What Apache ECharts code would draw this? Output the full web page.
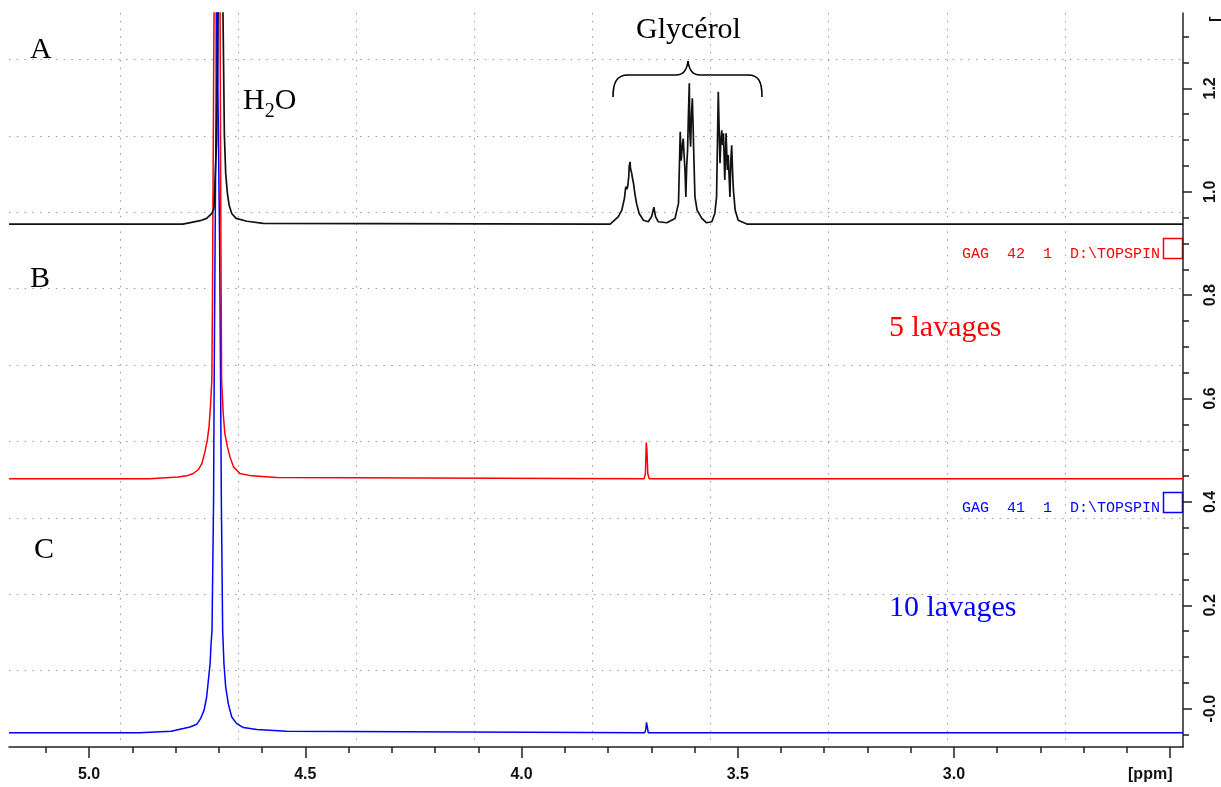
<!DOCTYPE html>
<html><head><meta charset="utf-8">
<script src="https://cdn.jsdelivr.net/npm/echarts@6/dist/echarts.min.js"></script>
<style>html,body{margin:0;padding:0;background:#fff}#c{width:1221px;height:787px}</style>
</head><body><div id="c"></div><script>
// ---- data (ppm, intensity) ----
const spectrumA = [
[5.185,0.9375],[4.783,0.9375],[4.781,0.941],[4.743,0.944],[4.728,0.9485],[4.716,0.958],[4.711,0.9685],
[4.705,1.10],[4.701,1.40],[4.696,2.60],[4.691,1.40],[4.687,1.11],[4.684,1.036],[4.680,0.997],[4.676,0.974],
[4.670,0.958],[4.660,0.9485],[4.635,0.943],[4.597,0.939],[4.595,0.9375],
[3.826,0.9375],[3.823,0.9405],[3.820,0.9375],[3.795,0.9375],[3.776,0.952],[3.768,0.9646],[3.762,0.9872],
[3.759,1.0097],[3.756,1.005],[3.754,1.013],[3.752,1.030],[3.751,1.0484],[3.749,1.058],[3.748,1.045],[3.747,1.042],[3.745,1.035],[3.744,1.029],[3.741,1.016],
[3.738,0.997],[3.734,0.9775],[3.728,0.958],[3.718,0.945],[3.707,0.942],[3.699,0.952],[3.694,0.970],
[3.690,0.952],[3.684,0.942],[3.664,0.940],[3.645,0.9485],[3.637,0.9775],[3.633,1.116],[3.631,1.060],[3.630,1.068],
[3.628,1.090],[3.626,1.103],[3.624,1.070],[3.622,1.042],[3.620,0.990],[3.618,1.050],[3.616,1.081],[3.614,1.150],[3.612,1.210],[3.611,1.120],[3.609,1.087],[3.607,1.150],[3.605,1.181],
[3.603,1.120],[3.602,1.084],[3.599,0.990],[3.594,0.9646],[3.583,0.9485],[3.572,0.940],[3.560,0.942],[3.553,0.958],
[3.549,0.990],[3.545,1.1935],[3.543,1.120],[3.541,1.055],[3.539,1.100],[3.537,1.119],[3.535,1.090],[3.533,1.113],[3.530,1.023],[3.528,1.080],[3.527,1.113],
[3.524,1.042],[3.522,1.071],[3.520,1.030],[3.518,0.990],[3.516,1.060],[3.514,1.090],[3.512,1.040],[3.510,1.003],[3.506,0.9646],[3.499,0.945],
[3.479,0.9375],[3.421,0.9375],[3.418,0.940],[3.415,0.9375],[2.4705,0.9375]
];
const spectrumB = [
[5.185,0.445],[4.860,0.445],[4.858,0.4484],[4.794,0.4484],[4.792,0.4504],[4.774,0.4504],[4.759,0.4550],
[4.747,0.4627],[4.739,0.4744],[4.732,0.4968],[4.7265,0.5195],[4.7225,0.5452],[4.719,0.5872],[4.716,0.6356],
[4.7145,0.80],[4.712,1.20],[4.709,1.60],[4.703,2.60],[4.698,1.60],[4.696,1.117],[4.695,0.90],
[4.6934,0.6356],[4.6897,0.571],[4.686,0.5324],[4.680,0.5065],[4.674,0.4871],[4.666,0.4678],[4.651,0.4550],
[4.624,0.4504],[4.566,0.4473],[4.564,0.445],
[3.7165,0.445],[3.7135,0.455],[3.7115,0.515],[3.7100,0.500],[3.708,0.455],[3.705,0.445],[2.4705,0.445]
];
const spectrumC = [
[5.185,-0.0463],[4.883,-0.0463],[4.881,-0.0437],[4.810,-0.0437],[4.808,-0.0404],[4.782,-0.0385],
[4.7665,-0.0354],[4.751,-0.0302],[4.742,-0.0191],[4.734,-0.0031],[4.728,0.0226],[4.724,0.0550],
[4.720,0.0873],[4.718,0.1225],[4.7156,0.1516],[4.712,0.40],[4.7105,0.65],[4.706,1.20],[4.704,2.60],
[4.702,1.20],[4.698,0.90],[4.6955,0.60],[4.694,0.40],[4.691,0.1516],[4.688,0.0873],[4.684,0.0420],
[4.678,0.0099],[4.670,-0.0160],[4.6585,-0.0288],[4.643,-0.0366],[4.612,-0.0404],[4.543,-0.0437],
[4.541,-0.0463],
[3.715,-0.0463],[3.7125,-0.040],[3.711,-0.0263],[3.709,-0.035],[3.707,-0.0463],[2.4705,-0.0463]
];
const xTickValues = [5.0, 4.5, 4.0, 3.5, 3.0, 2.5];
const xTickLabels = ['5.0', '4.5', '4.0', '3.5', '3.0', '[ppm]'];
const yTickValues = [0, 0.2, 0.4, 0.6, 0.8, 1.0, 1.2];
const yTickLabels = ['-0.0', '0.2', '0.4', '0.6', '0.8', '1.0', '1.2'];
const xRange = [2.4705, 5.185];
const yRange = [-0.0741, 1.3458];

function lookup(vals, labels, v) {
  for (let i = 0; i < vals.length; i++) if (Math.abs(vals[i] - v) < 1e-6) return labels[i];
  return '';
}
const chart = echarts.init(document.getElementById('c'), null, {renderer: 'canvas'});
const axisCol = '#222';
const dotted = {show: true, lineStyle: {color: '#9a9a9a', width: 1, type: [1.5, 6.3]}, showMinLine: false, showMaxLine: false};
const serif = 'Liberation Serif, Times New Roman, serif';
const option = {
  animation: false,
  backgroundColor: '#fff',
  grid: {left: 9, right: 38, top: 13, bottom: 40, containLabel: false},
  xAxis: [{
    type: 'value', inverse: true, min: xRange[0], max: xRange[1], splitNumber: 5,
    position: 'bottom',
    axisLine: {show: true, onZero: false, lineStyle: {color: axisCol, width: 1.5}},
    axisTick: {show: true, inside: false, length: 11, customValues: xTickValues, lineStyle: {color: axisCol, width: 1.5}},
    minorTick: {show: true, splitNumber: 5, length: 6, lineStyle: {color: axisCol, width: 1.5}},
    axisLabel: {show: true, margin: 20, customValues: xTickValues, fontFamily: 'Liberation Sans, Arial', fontWeight: 'bold', fontSize: 16, color: '#111',
      formatter: v => { const t = lookup(xTickValues, xTickLabels, v); return t === '[ppm]' ? '{p|[ppm]}' : t; },
      rich: {p: {fontFamily: 'Liberation Sans, Arial', fontWeight: 'bold', fontSize: 16, color: '#111', padding: [0, 40, 0, 0]}}},
    splitLine: {show: false}
  }, {
    type: 'value', inverse: true, min: 0, max: 9.941, interval: 1, position: 'top',
    axisLine: {show: false}, axisTick: {show: false}, axisLabel: {show: false},
    splitLine: dotted
  }],
  yAxis: [{
    type: 'value', position: 'right', min: yRange[0], max: yRange[1], splitNumber: 7,
    axisLine: {show: true, onZero: false, lineStyle: {color: axisCol, width: 1.5}},
    axisTick: {show: true, inside: false, length: 9, customValues: yTickValues, lineStyle: {color: axisCol, width: 1.5}},
    minorTick: {show: true, splitNumber: 4, length: 6, lineStyle: {color: axisCol, width: 1.5}},
    axisLabel: {show: true, rotate: 90, margin: 20, customValues: yTickValues, fontFamily: 'Liberation Sans, Arial', fontWeight: 'bold', fontSize: 16, color: '#111',
      formatter: v => lookup(yTickValues, yTickLabels, v)},
    splitLine: {show: false}
  }, {
    type: 'value', position: 'left', min: 0, max: 9.607, interval: 1,
    axisLine: {show: false}, axisTick: {show: false}, axisLabel: {show: false},
    splitLine: dotted
  }],
  series: [
    {name: 'C', type: 'line', data: spectrumC, showSymbol: false, clip: true, lineStyle: {color: '#0000ff', width: 1.5}, itemStyle: {color: '#0000ff'}},
    {name: 'B', type: 'line', data: spectrumB, showSymbol: false, clip: true, lineStyle: {color: '#ff0000', width: 1.5}, itemStyle: {color: '#ff0000'}},
    {name: 'A', type: 'line', data: spectrumA, showSymbol: false, clip: true, lineStyle: {color: '#111111', width: 1.7}, itemStyle: {color: '#111111'}}
  ],
  graphic: [
    {type: 'text', left: 30, top: 35, style: {text: 'A', font: '30px ' + serif, fill: '#000'}},
    {type: 'text', left: 30, top: 264, style: {text: 'B', font: '30px ' + serif, fill: '#000'}},
    {type: 'text', left: 34, top: 535, style: {text: 'C', font: '30px ' + serif, fill: '#000'}},
    {type: 'text', left: 243, top: 86, style: {text: '{n|H}{s|2}{n|O}', rich: {n: {fontSize: 30, fontFamily: serif, lineHeight: 34, verticalAlign: 'bottom'}, s: {fontSize: 20, fontFamily: serif, lineHeight: 28, verticalAlign: 'bottom', padding: [0, 0, -6, 0]}}, fill: '#000'}},
    {type: 'text', left: 636, top: 15, style: {text: 'Glycérol', font: '30px ' + serif, fill: '#000'}},
    {type: 'bezierCurve', shape: {x1: 613, y1: 97, cpx1: 613, cpy1: 82, cpx2: 617, cpy2: 75, x2: 628, y2: 75}, style: {stroke: '#000', lineWidth: 1.6, fill: 'none'}},
    {type: 'line', shape: {x1: 628, y1: 75, x2: 676, y2: 75}, style: {stroke: '#000', lineWidth: 1.6}},
    {type: 'bezierCurve', shape: {x1: 676, y1: 75, cpx1: 683, cpy1: 75, cpx2: 687, cpy2: 70, x2: 688, y2: 61}, style: {stroke: '#000', lineWidth: 1.6, fill: 'none'}},
    {type: 'bezierCurve', shape: {x1: 688, y1: 61, cpx1: 689, cpy1: 70, cpx2: 693, cpy2: 75, x2: 700, y2: 75}, style: {stroke: '#000', lineWidth: 1.6, fill: 'none'}},
    {type: 'line', shape: {x1: 700, y1: 75, x2: 748, y2: 75}, style: {stroke: '#000', lineWidth: 1.6}},
    {type: 'bezierCurve', shape: {x1: 748, y1: 75, cpx1: 759, cpy1: 75, cpx2: 762, cpy2: 82, x2: 762, y2: 97}, style: {stroke: '#000', lineWidth: 1.6, fill: 'none'}},
    {type: 'text', left: 889, top: 313, style: {text: '5 lavages', font: '30px ' + serif, fill: '#ff0000'}},
    {type: 'text', left: 889, top: 593, style: {text: '10 lavages', font: '30px ' + serif, fill: '#0000ff'}},
    {type: 'text', right: 61, top: 247, style: {text: 'GAG  42  1  D:\\TOPSPIN', font: '15px Liberation Mono, Courier New, monospace', fill: '#ff0000'}},
    {type: 'text', right: 61, top: 501, style: {text: 'GAG  41  1  D:\\TOPSPIN', font: '15px Liberation Mono, Courier New, monospace', fill: '#0000ff'}},
    {type: 'rect', shape: {x: 1163.5, y: 238.5, width: 19, height: 20}, style: {fill: 'none', stroke: '#ff0000', lineWidth: 1.5}},
    {type: 'rect', shape: {x: 1163.5, y: 492.5, width: 19, height: 20}, style: {fill: 'none', stroke: '#0000ff', lineWidth: 1.5}},
    {type: 'text', x: 1217, y: 22, rotation: Math.PI / 2, style: {text: '[', font: 'bold 16px Liberation Sans, Arial', fill: '#111', align: 'left', verticalAlign: 'middle'}}
  ]
};
chart.setOption(option);
</script></body></html>
